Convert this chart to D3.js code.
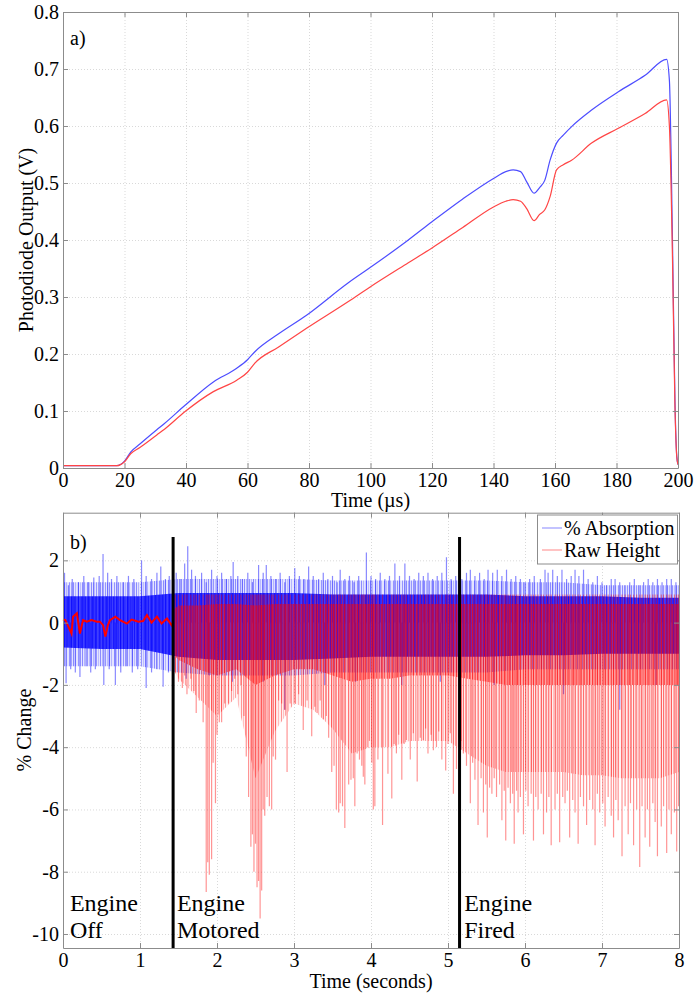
<!DOCTYPE html>
<html>
<head>
<meta charset="utf-8">
<script src="https://cdn.jsdelivr.net/npm/d3@7"></script>
<style>
body { margin: 0; background: #fff; }
svg { display: block; font-family: "Liberation Serif", "Times New Roman", serif; }
.grid line { stroke: #d9d9d9; stroke-dasharray: 1,2; }
.grid path { display: none; }
.axis path, .axis line { stroke: #8c8c8c; }
.axis text { fill: #000; font-family: "Liberation Serif", "Times New Roman", serif; font-size: 20px; }
</style>
</head>
<body>
<svg id="chart"></svg>
<script>
// ---- panel a: photodiode traces ----
const timeUs = [0, 17.5, 20, 22, 25, 30.5, 33, 39.7, 48.9, 56.5, 60, 62.4, 70, 79.2, 92.8, 100, 112.3, 120, 130, 140, 144, 146.4, 148.8, 150.8, 153.2, 155, 156.7, 158.4, 160.5, 162.7, 165.4, 171.9, 180.6, 189.3, 196.3, 197.2, 198.2, 199, 199.6, 200];
const absTrace = [0.004, 0.004, 0.012, 0.028, 0.042, 0.067, 0.078, 0.11, 0.151, 0.175, 0.19, 0.204, 0.235, 0.268, 0.325, 0.352, 0.4, 0.432, 0.472, 0.508, 0.52, 0.523, 0.52, 0.502, 0.482, 0.492, 0.505, 0.54, 0.57, 0.584, 0.599, 0.628, 0.66, 0.689, 0.717, 0.68, 0.4, 0.12, 0.02, 0.006];
const rawTrace = [0.004, 0.004, 0.011, 0.025, 0.036, 0.058, 0.068, 0.099, 0.134, 0.154, 0.168, 0.184, 0.212, 0.245, 0.292, 0.318, 0.36, 0.386, 0.422, 0.458, 0.468, 0.471, 0.468, 0.455, 0.434, 0.445, 0.453, 0.476, 0.523, 0.532, 0.54, 0.57, 0.596, 0.622, 0.646, 0.6, 0.37, 0.11, 0.02, 0.006];
const xTicksA = [0, 20, 40, 60, 80, 100, 120, 140, 160, 180, 200];
const yTicksA = [0, 0.1, 0.2, 0.3, 0.4, 0.5, 0.6, 0.7, 0.8];

// ---- panel b: % change vs time (envelopes and spikes) ----
const absGridT    = [0, 0.5, 1, 1.5, 2, 2.5, 3, 3.5, 4, 4.5, 5, 5.5, 6, 6.5, 7, 7.5, 8];
const absCoreHi   = [0.85, 0.85, 0.85, 0.95, 0.95, 0.95, 0.95, 0.9, 0.9, 0.9, 0.9, 0.9, 0.85, 0.85, 0.85, 0.8, 0.8];
const absCoreLo   = [-0.8, -0.85, -0.85, -1.1, -1.2, -1.2, -1.2, -1.15, -1.1, -1.1, -1.1, -1.1, -1.05, -1.05, -1.0, -1.0, -1.0];
const absFringeHi = [1.3, 1.3, 1.3, 1.4, 1.4, 1.4, 1.4, 1.35, 1.35, 1.35, 1.35, 1.35, 1.3, 1.3, 1.2, 1.2, 1.2];
const absFringeLo = [-1.4, -1.4, -1.4, -1.6, -1.7, -1.7, -1.7, -1.6, -1.6, -1.6, -1.6, -1.6, -1.5, -1.5, -1.5, -1.5, -1.5];
const absSpikesUp = [[0.02,1.6],[0.07,1.2],[0.12,1.4],[0.2,1.3],[0.27,1.5],[0.33,1.3],[0.4,1.45],[0.47,1.5],[0.52,2.2],[0.58,1.6],[0.63,1.4],[0.7,1.5],[0.78,1.3],[0.85,1.5],[0.92,1.4],[1.02,2.0],[1.08,1.5],[1.15,1.4],[1.22,1.6],[1.27,1.8],[1.33,1.4],[1.38,1.5],
  [1.47,1.6],[1.52,1.4],[1.58,1.9],[1.62,2.45],[1.67,1.7],[1.72,1.5],[1.8,1.6],[1.86,1.3],[1.93,1.7],[2.0,1.5],[2.06,1.6],[2.12,1.4],[2.18,1.5],[2.21,1.95],[2.27,1.5],[2.33,1.4],[2.4,1.6],[2.46,1.3],[2.54,1.85],[2.6,1.6],[2.64,1.85],[2.7,1.5],[2.76,1.4],[2.82,1.6],[2.88,1.3],[2.94,1.5],
  [3.01,1.75],[3.07,1.5],[3.13,1.4],[3.19,1.8],[3.25,1.5],[3.32,1.4],[3.38,1.6],[3.44,1.4],[3.5,1.5],[3.56,1.3],[3.6,1.7],[3.66,1.4],[3.72,1.5],[3.78,1.3],[3.84,1.5],[3.94,2.25],[4.0,1.5],[4.06,1.4],[4.12,1.6],[4.18,1.4],[4.24,1.5],[4.31,1.9],[4.37,1.5],[4.44,1.9],[4.5,1.5],[4.56,1.4],[4.62,1.6],[4.68,1.5],[4.74,1.6],[4.8,1.4],[4.86,1.5],[4.92,1.6],[4.98,2.1],
  [5.04,1.4],[5.1,1.5],[5.18,1.4],[5.24,1.6],[5.29,1.7],[5.35,1.5],[5.41,1.6],[5.47,1.4],[5.52,1.7],[5.58,1.6],[5.64,1.7],[5.7,1.5],[5.76,1.7],[5.82,1.4],[5.88,1.5],[5.94,1.4],[6.0,1.3],[6.06,1.4],[6.12,1.5],[6.2,1.4],[6.26,1.7],[6.3,1.6],[6.36,1.7],[6.42,1.5],[6.48,1.7],[6.54,1.4],[6.6,1.5],[6.65,1.7],[6.7,1.5],[6.76,1.7],[6.82,1.4],[6.88,1.3],[6.94,1.5],
  [7.0,1.3],[7.06,1.2],[7.12,1.4],[7.17,1.4],[7.23,1.3],[7.3,1.2],[7.36,1.3],[7.42,1.4],[7.48,1.2],[7.54,1.3],[7.6,1.4],[7.66,1.3],[7.72,1.4],[7.78,1.3],[7.84,1.4],[7.9,1.4],[7.96,1.3]];
const absSpikesDown = [[0.04,-1.95],[0.1,-1.5],[0.16,-1.6],[0.22,-1.75],[0.3,-1.4],[0.36,-1.6],[0.42,-1.5],[0.53,-2.0],[0.6,-1.5],[0.68,-2.0],[0.75,-1.6],[0.82,-1.4],[0.9,-1.6],[0.97,-1.5],[1.08,-2.1],[1.15,-1.6],[1.22,-1.5],[1.3,-2.06],[1.37,-1.6],
  [1.6,-1.8],[1.9,-1.7],[2.2,-1.9],[2.6,-1.9],[2.88,-2.8],[3.4,-2.0],[3.8,-1.9],[4.4,-2.0],[4.9,-1.9],[5.6,-2.0],[6.5,-2.3],[7.23,-2.8],[7.7,-2.0]];

const rawOffT = [0, 0.03, 0.07, 0.11, 0.13, 0.18, 0.22, 0.26, 0.31, 0.37, 0.44, 0.48, 0.52, 0.55, 0.58, 0.61, 0.68, 0.74, 0.83, 0.89, 0.98, 1.04, 1.09, 1.15, 1.22, 1.28, 1.35, 1.41, 1.43];
const rawOff  = [0.1, 0.08, -0.13, -0.35, 0.19, 0.3, -0.35, 0.08, 0.03, 0.08, 0.03, 0.03, -0.08, -0.45, -0.1, 0.08, 0.19, 0.08, -0.03, 0.1, 0.03, 0.05, 0.24, 0.0, 0.19, -0.03, 0.13, -0.08, 0.0];
const rawGridT  = [1.43, 1.5, 1.75, 2, 2.25, 2.5, 2.75, 3, 3.25, 3.5, 3.75, 4, 4.25, 4.5, 4.75, 5, 5.25, 5.5, 5.75, 6, 6.25, 6.5, 6.75, 7, 7.25, 7.5, 7.75, 8];
const rawCoreHi = [0.4, 0.55, 0.55, 0.6, 0.6, 0.55, 0.6, 0.6, 0.6, 0.6, 0.6, 0.6, 0.6, 0.6, 0.6, 0.6, 0.6, 0.6, 0.6, 0.6, 0.6, 0.6, 0.6, 0.6, 0.6, 0.6, 0.6, 0.6];
const rawCoreLo = [-1.0, -1.2, -1.5, -1.7, -1.5, -2.0, -1.7, -1.5, -1.5, -1.7, -1.9, -1.8, -1.8, -1.7, -1.7, -1.7, -1.8, -1.9, -2.0, -2.0, -2.0, -2.0, -2.0, -2.0, -2.0, -2.0, -2.0, -2.0];
const rawMidLo  = [-1.5, -1.8, -2.4, -3.0, -2.4, -5.0, -3.5, -2.6, -2.8, -3.4, -4.2, -4.0, -4.0, -3.8, -3.8, -3.8, -4.2, -4.6, -4.8, -4.8, -4.8, -4.8, -4.9, -4.9, -5.0, -5.0, -5.0, -4.8];
const rawDips = [[1.46,-1.6],[1.5,-1.9],[1.55,-2.1],[1.58,-1.7],[1.61,-2.3],[1.66,-1.8],[1.7,-2.2],[1.73,-2.9],[1.77,-2.5],[1.82,-3.2],[1.86,-8.65],[1.88,-7.7],[1.9,-8.1],[1.93,-7.6],[1.95,-4.5],[1.98,-5.8],
  [2.0,-3.6],[2.03,-3.2],[2.06,-3.2],[2.1,-2.6],[2.15,-2.6],[2.19,-2.2],[2.23,-1.8],[2.27,-2.3],[2.31,-2.0],[2.35,-3.0],[2.38,-4.3],[2.41,-5.6],[2.44,-7.2],[2.46,-6.8],[2.48,-8.0],[2.5,-7.1],[2.52,-8.5],[2.54,-8.3],[2.56,-9.5],[2.58,-8.6],[2.6,-6.0],[2.62,-6.2],[2.65,-5.6],[2.68,-5.9],[2.71,-6.0],[2.73,-4.3],[2.76,-4.4],[2.8,-2.5],[2.84,-2.6],[2.88,-2.8],[2.91,-4.8],[2.95,-2.6],
  [3.01,-2.6],[3.06,-2.3],[3.12,-3.45],[3.17,-2.5],[3.23,-3.65],[3.27,-2.7],[3.3,-2.9],[3.34,-2.5],[3.38,-3.1],[3.42,-3.0],[3.45,-3.7],[3.49,-4.8],[3.52,-4.6],[3.55,-6.0],[3.58,-6.1],[3.6,-5.8],[3.63,-5.9],[3.66,-6.6],[3.71,-5.2],[3.74,-5.05],[3.77,-5.0],[3.79,-5.9],[3.82,-4.2],[3.85,-4.4],[3.88,-4.6],[3.9,-4.95],[3.92,-5.2],[3.95,-4.0],[3.98,-3.8],
  [4.01,-4.5],[4.03,-6.0],[4.05,-5.9],[4.09,-4.4],[4.15,-6.5],[4.22,-4.85],[4.27,-5.65],[4.3,-3.9],[4.33,-4.2],[4.36,-3.6],[4.4,-5.05],[4.43,-3.9],[4.46,-3.77],[4.51,-4.4],[4.55,-3.55],[4.6,-5.1],[4.64,-3.7],[4.68,-3.77],[4.71,-3.4],[4.74,-4.2],[4.78,-3.6],[4.81,-4.1],[4.85,-4.0],[4.88,-3.5],[4.92,-4.4],[4.97,-4.75],
  [5.0,-3.9],[5.03,-3.55],[5.07,-5.5],[5.11,-4.7],[5.17,-3.8],[5.2,-4.2],[5.24,-4.6],[5.29,-5.8],[5.32,-4.5],[5.35,-5.05],[5.39,-6.5],[5.43,-5.0],[5.46,-6.1],[5.49,-5.2],[5.51,-6.9],[5.54,-5.3],[5.57,-5.5],[5.6,-5.0],[5.63,-5.6],[5.67,-5.2],[5.7,-6.35],[5.73,-5.4],[5.75,-7.0],[5.78,-5.3],[5.81,-5.8],[5.84,-5.5],[5.86,-7.1],[5.89,-5.4],[5.91,-6.1],[5.94,-5.6],[5.98,-6.8],
  [6.01,-5.4],[6.04,-5.9],[6.08,-5.5],[6.11,-7.0],[6.14,-5.6],[6.17,-6.0],[6.21,-5.5],[6.24,-6.8],[6.28,-6.1],[6.31,-5.6],[6.34,-7.15],[6.39,-6.0],[6.42,-5.5],[6.45,-7.05],[6.49,-5.6],[6.52,-5.8],[6.55,-5.4],[6.58,-6.9],[6.62,-5.7],[6.65,-6.1],[6.69,-7.1],[6.72,-5.6],[6.76,-5.9],[6.8,-6.5],[6.84,-5.7],[6.88,-6.0],[6.91,-7.15],[6.94,-5.5],[6.97,-6.1],
  [7.01,-5.8],[7.04,-6.55],[7.08,-5.6],[7.12,-6.2],[7.15,-6.9],[7.18,-5.7],[7.21,-6.35],[7.26,-7.5],[7.3,-5.9],[7.34,-6.8],[7.37,-5.8],[7.41,-7.15],[7.45,-6.0],[7.49,-7.85],[7.52,-5.9],[7.56,-6.9],[7.59,-6.0],[7.62,-7.2],[7.66,-5.8],[7.69,-6.4],[7.72,-7.5],[7.77,-6.55],[7.8,-5.9],[7.84,-7.4],[7.87,-6.0],[7.9,-6.8],[7.94,-6.1],[7.97,-7.35],[7.995,-5.9]];
const eventTimes = [1.43, 5.15];
const phaseLabels = [{ t: 0.09, lines: ['Engine', 'Off'] }, { t: 1.48, lines: ['Engine', 'Motored'] }, { t: 5.21, lines: ['Engine', 'Fired'] }];
const xTicksB = [0, 1, 2, 3, 4, 5, 6, 7, 8];
const yTicksB = [-10, -8, -6, -4, -2, 0, 2];
const legendNames = ['% Absorption', 'Raw Height'];

const W = 695, H = 993;
const FONT = 'Liberation Serif';
const svg = d3.select('#chart').attr('width', W).attr('height', H);

// scales
const xA = d3.scaleLinear().domain([0, 200]).range([63, 678]);
const yA = d3.scaleLinear().domain([0, 0.8]).range([468, 12]);
const xB = d3.scaleLinear().domain([0, 8]).range([63, 679]);
const yB = d3.scaleLinear().domain([-10.45, 3.53]).range([948, 512.7]);

// streaky fills so the dense bands look like many overlapping samples
const defs = svg.append('defs');
function stripes(id, color, period, marks)
{
    const p = defs.append('pattern').attr('id', id)
        .attr('patternUnits', 'userSpaceOnUse').attr('width', period).attr('height', 8);
    marks.forEach(([x, w, a]) => {
        p.append('rect').attr('x', x).attr('y', 0).attr('width', w).attr('height', 8)
            .attr('fill', color).attr('fill-opacity', a);
    });
}
stripes('blueCore', '#0000ff', 7, [[0, 7, 0.72], [1, 1, 0.6], [4, 1, 0.45], [5, 1, 0.3]]);
stripes('blueFringe', '#2020ff', 9, [[0, 9, 0.12], [1, 1, 0.45], [3, 1, 0.25], [6, 1, 0.4], [8, 1, 0.2]]);
stripes('redCore', '#ff0000', 8, [[0, 8, 0.35], [0, 1, 0.45], [3, 1, 0.3], [5, 1, 0.5]]);
stripes('redMid', '#ff0000', 10, [[0, 10, 0.06], [1, 1, 0.38], [3, 1, 0.2], [5, 1, 0.32], [8, 1, 0.22]]);

// grid behind the data
function drawGrid(x, y, xTicks, yTicks)
{
    const [x0, x1] = x.range();
    const [yb, yt] = y.range();

    svg.append('g').attr('class', 'grid').attr('transform', `translate(0,${yb})`)
        .call(d3.axisBottom(x).tickValues(xTicks).tickSize(-(yb - yt)).tickFormat(''));
    svg.append('g').attr('class', 'grid').attr('transform', `translate(${x0},0)`)
        .call(d3.axisLeft(y).tickValues(yTicks).tickSize(-(x1 - x0)).tickFormat(''));
}

// box with inward ticks on all four sides, matlab style
function drawFrame(x, y, xTicks, yTicks, yFmt)
{
    const [x0, x1] = x.range();
    const [yb, yt] = y.range();

    const bottom = svg.append('g').attr('class', 'axis').attr('transform', `translate(0,${yb})`)
        .call(d3.axisBottom(x).tickValues(xTicks).tickSizeInner(-5).tickSizeOuter(0).tickPadding(5).tickFormat(d => String(d)));
    svg.append('g').attr('class', 'axis').attr('transform', `translate(0,${yt})`)
        .call(d3.axisTop(x).tickValues(xTicks).tickSizeInner(-5).tickSizeOuter(0).tickFormat(''));
    const left = svg.append('g').attr('class', 'axis').attr('transform', `translate(${x0},0)`)
        .call(d3.axisLeft(y).tickValues(yTicks).tickSizeInner(-5).tickSizeOuter(0).tickPadding(4).tickFormat(yFmt));
    svg.append('g').attr('class', 'axis').attr('transform', `translate(${x1},0)`)
        .call(d3.axisRight(y).tickValues(yTicks).tickSizeInner(-5).tickSizeOuter(0).tickFormat(''));

    [bottom, left].forEach(a => a.attr('font-family', FONT).attr('font-size', 20)
        .selectAll('text').attr('font-family', FONT).attr('font-size', 20));
}

// ---------- panel a ----------
drawGrid(xA, yA, xTicksA, yTicksA);

const lineA = d3.line().curve(d3.curveMonotoneX).x((d, i) => xA(timeUs[i])).y(d => yA(d));
svg.append('path').datum(absTrace).attr('d', lineA)
    .attr('fill', 'none').attr('stroke', '#4d4dff').attr('stroke-width', 1.2);
svg.append('path').datum(rawTrace).attr('d', lineA)
    .attr('fill', 'none').attr('stroke', '#ff4545').attr('stroke-width', 1.2);

drawFrame(xA, yA, xTicksA, yTicksA, d => d === 0 ? '0' : d3.format('.1f')(d));

svg.append('text').attr('x', 70).attr('y', 45).attr('font-size', 20).text('a)');
svg.append('text').attr('x', (xA.range()[0] + xA.range()[1]) / 2).attr('y', 507)
    .attr('text-anchor', 'middle').attr('font-size', 20).text('Time (\u00b5s)');
svg.append('text').attr('transform', `translate(33,${(yA.range()[0] + yA.range()[1]) / 2}) rotate(-90)`)
    .attr('text-anchor', 'middle').attr('font-size', 20).text('Photodiode Output (V)');

// ---------- panel b ----------
drawGrid(xB, yB, xTicksB, yTicksB);

const plotB = svg.append('g');

// % Absorption : light fringe, spikes, dense core
const bandAbs = (hi, lo) => d3.area()
    .x((d, i) => xB(absGridT[i]))
    .y0((d, i) => yB(lo[i]))
    .y1((d, i) => yB(hi[i]));
plotB.append('path').datum(absGridT).attr('d', bandAbs(absFringeHi, absFringeLo))
    .attr('fill', 'url(#blueFringe)');
plotB.append('g').selectAll('line').data(absSpikesUp.concat(absSpikesDown)).join('line')
    .attr('x1', d => xB(d[0])).attr('x2', d => xB(d[0]))
    .attr('y1', yB(0)).attr('y2', d => yB(d[1]))
    .attr('stroke', 'rgba(40,40,255,0.55)').attr('stroke-width', 1.2);
plotB.append('path').datum(absGridT).attr('d', bandAbs(absCoreHi, absCoreLo))
    .attr('fill', 'url(#blueCore)');

// Raw Height : pink band, dips, core, then the engine-off trace
const bandRaw = (hi, lo) => d3.area()
    .x((d, i) => xB(rawGridT[i]))
    .y0((d, i) => yB(lo[i]))
    .y1((d, i) => yB(hi[i]));
plotB.append('path').datum(rawGridT).attr('d', bandRaw(rawCoreLo, rawMidLo))
    .attr('fill', 'url(#redMid)');
plotB.append('g').selectAll('line').data(rawDips).join('line')
    .attr('x1', d => xB(d[0])).attr('x2', d => xB(d[0]))
    .attr('y1', yB(0.9)).attr('y2', d => yB(d[1]))
    .attr('stroke', 'rgba(255,0,0,0.42)').attr('stroke-width', 1.2);
plotB.append('path').datum(rawGridT).attr('d', bandRaw(rawCoreHi, rawCoreLo))
    .attr('fill', 'url(#redCore)');
plotB.append('path').datum(rawOff)
    .attr('d', d3.line().x((d, i) => xB(rawOffT[i])).y(d => yB(d)))
    .attr('fill', 'none').attr('stroke', '#ff0000').attr('stroke-width', 2);

// event markers
svg.append('g').selectAll('line').data(eventTimes).join('line')
    .attr('x1', d => xB(d)).attr('x2', d => xB(d))
    .attr('y1', yB(2.75)).attr('y2', yB.range()[0])
    .attr('stroke', '#000').attr('stroke-width', 3);

drawFrame(xB, yB, xTicksB, yTicksB, d => String(d));

// phase labels
phaseLabels.forEach(p => {
    const t = svg.append('text').attr('font-size', 24);
    p.lines.forEach((s, i) => {
        t.append('tspan').attr('x', xB(p.t)).attr('y', 911 + i * 27).text(s);
    });
});

svg.append('text').attr('x', 70).attr('y', 549).attr('font-size', 20).text('b)');
svg.append('text').attr('x', (xB.range()[0] + xB.range()[1]) / 2).attr('y', 988)
    .attr('text-anchor', 'middle').attr('font-size', 20).text('Time (seconds)');
svg.append('text').attr('transform', `translate(31,${730}) rotate(-90)`)
    .attr('text-anchor', 'middle').attr('font-size', 20).text('% Change');

// legend
const legend = svg.append('g');
legend.append('rect').attr('x', 537.5).attr('y', 515).attr('width', 140).attr('height', 49)
    .attr('fill', '#fff').attr('stroke', '#8c8c8c');
const legendColors = ['#9a9aff', '#ff9a9a'];
legendNames.forEach((name, i) => {
    legend.append('line').attr('x1', 542).attr('x2', 562)
        .attr('y1', 528 + i * 22).attr('y2', 528 + i * 22)
        .attr('stroke', legendColors[i]).attr('stroke-width', 1.2);
    legend.append('text').attr('x', 564).attr('y', 535 + i * 22).attr('font-size', 20).text(name);
});
</script>
</body>
</html>
